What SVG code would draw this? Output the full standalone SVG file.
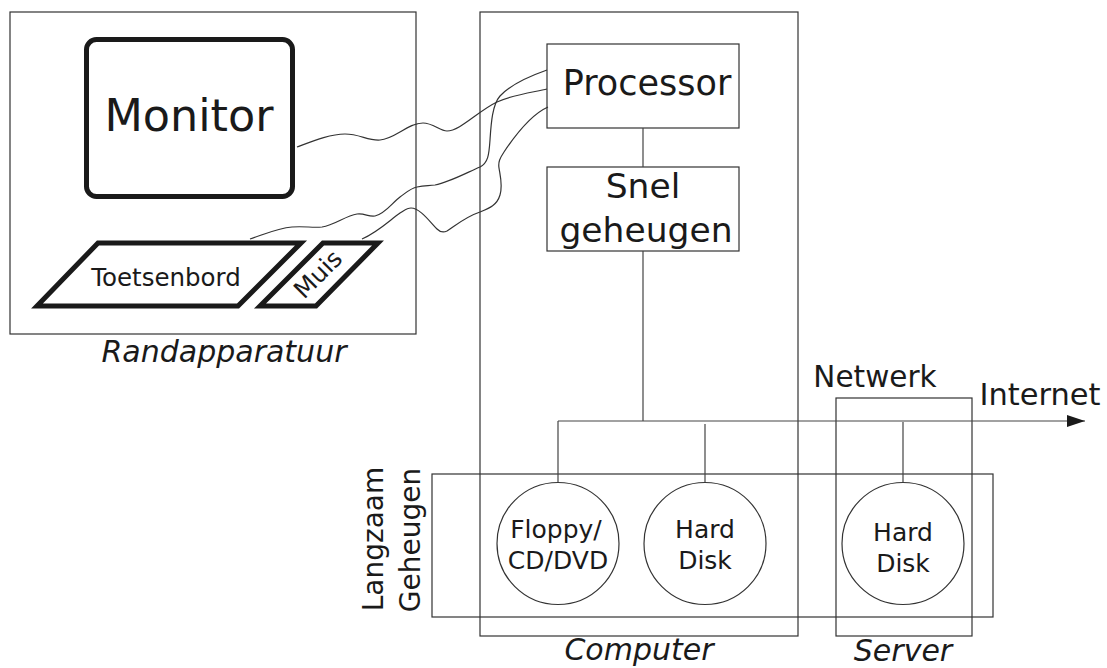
<svg xmlns="http://www.w3.org/2000/svg" width="1107" height="668" viewBox="0 0 1107 668">
<style>
.box{fill:none;stroke:#333;stroke-width:1.2}
.thick{fill:none;stroke:#1a1a1a;stroke-width:5;stroke-linejoin:miter}
.wire{fill:none;stroke:#333;stroke-width:1.2}
.ln{fill:none;stroke:#444;stroke-width:1.2}
text{font-family:"DejaVu Sans",Verdana,sans-serif;fill:#1a1a1a;text-anchor:middle}
.it{font-style:italic}
</style>
<defs>
<marker id="arr" markerWidth="18" markerHeight="12" refX="18" refY="6" orient="auto" markerUnits="userSpaceOnUse">
<path d="M0,0 L18,6 L0,12 Z" fill="#1a1a1a"/>
</marker>
</defs>
<rect width="1107" height="668" fill="#fff"/>

<g id="randapparatuur">
<rect class="box" x="10" y="12" width="406" height="322"/>
<text class="it" x="224" y="362" font-size="30">Randapparatuur</text>
</g>
<g id="monitor">
<rect class="thick" x="86.5" y="39.5" width="206" height="157" rx="10"/>
<text x="189" y="131" font-size="44.5">Monitor</text>
</g>
<g id="toetsenbord">
<polygon class="thick" points="98,243 301,243 238,306 37,306"/>
<text x="166" y="286" font-size="24.5">Toetsenbord</text>
</g>
<g id="muis">
<polygon class="thick" points="323,243 378,243 316,306 260,306"/>
<text x="324" y="280" font-size="24.5" transform="rotate(-45 324 280)">Muis</text>
</g>

<g id="computer">
<rect class="box" x="480" y="12" width="318" height="624"/>
<text class="it" x="639" y="660" font-size="30">Computer</text>
</g>
<g id="processor">
<rect class="box" x="547" y="44" width="192" height="84" fill="#fff"/>
<text x="647" y="95" font-size="35">Processor</text>
</g>
<g id="snelgeheugen">
<rect class="box" x="547" y="167" width="192" height="84"/>
<text x="643" y="198" font-size="34.5">Snel</text>
<text x="646" y="242" font-size="34.5">geheugen</text>
</g>

<g id="langzaam">
<rect class="box" x="432" y="474" width="561" height="143"/>
<text x="383" y="539" font-size="28" transform="rotate(-90 383 539)">Langzaam</text>
<text x="420" y="540" font-size="28" transform="rotate(-90 420 540)">Geheugen</text>
</g>
<g id="netwerk">
<rect class="box" x="836" y="398" width="136" height="238"/>
<text x="875" y="387" font-size="29.5">Netwerk</text>
</g>
<g id="server">
<text class="it" x="903" y="661" font-size="30">Server</text>
</g>
<g id="internet">
<text x="1040" y="405" font-size="30.5">Internet</text>
</g>

<g id="floppy">
<circle class="box" cx="558" cy="543.5" r="61" fill="#fff"/>
<text x="556" y="538" font-size="25">Floppy/</text>
<text x="558" y="569" font-size="25">CD/DVD</text>
</g>
<g id="harddisk1">
<circle class="box" cx="705" cy="543.5" r="61"/>
<text x="705" y="538" font-size="25">Hard</text>
<text x="705" y="569" font-size="25">Disk</text>
</g>
<g id="harddisk2">
<circle class="box" cx="903" cy="543.5" r="61"/>
<text x="903" y="541" font-size="25">Hard</text>
<text x="903" y="572" font-size="25">Disk</text>
</g>

<g id="connectors">
<path class="wire" d="M297,147 C313,141 330,134 345,134 C360,134 368,141 380,140 C395,139 408,123 423,123 C433,123 440,131 447,131 C460,131 478,111 497,102 C515,94 535,92 547,89"/>
<path class="wire" d="M250,239 C265,234 278,228 292,227 C305,226 312,228 322,227 C335,225 345,216 357,214 C365,213 368,217 375,216 C385,214 392,203 400,197 C407,192 411,188 417,187 C425,185 428,186 435,185 C450,182 468,172 480,167 C488,163 489,155 490,140 C491,125 492,105 500,96 C510,85 530,76 547,70"/>
<path class="wire" d="M362,239 C378,232 390,220 400,213 C405,210 407,208 411,208 C420,208 430,222 437,229 C440,232 443,233 447,231 C455,226 465,217 480,212 C490,208 497,205 500,195 C503,185 500,175 499,168 C498,162 500,158 504,152 C512,140 530,115 548,107"/>
<line class="ln" x1="643" y1="128" x2="643" y2="167"/>
<line class="ln" x1="643" y1="251" x2="643" y2="421"/>
<line class="ln" x1="558" y1="421" x2="1085" y2="421" marker-end="url(#arr)"/>
<line class="ln" x1="558" y1="421" x2="558" y2="482.5"/>
<line class="ln" x1="705" y1="424" x2="705" y2="482.5"/>
<line class="ln" x1="903" y1="422" x2="903" y2="482.5"/>
</g>
</svg>
